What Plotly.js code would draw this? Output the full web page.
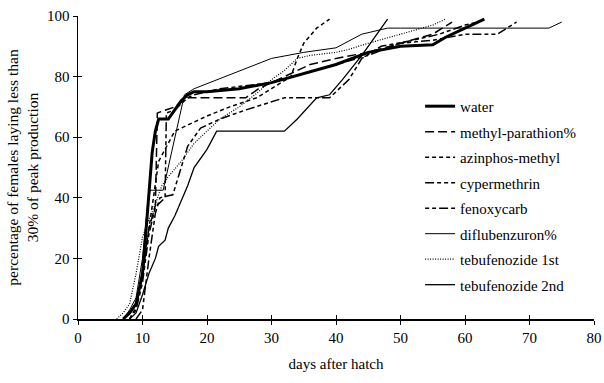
<!DOCTYPE html>
<html>
<head>
<meta charset="utf-8">
<script src="https://cdn.plot.ly/plotly-3.0.1.min.js"></script>
<style>html,body{margin:0;padding:0;background:#fff;}#chart{width:604px;height:383px;}</style>
</head>
<body>
<div id="chart"></div>
<script>
// ---- data ----
const seriesNames = ["water","methyl-parathion%","azinphos-methyl","cypermethrin","fenoxycarb","diflubenzuron%","tebufenozide 1st","tebufenozide 2nd"];

const waterX = [7, 8, 9, 10, 10.5, 11, 11.5, 12, 12.5, 14, 15, 16, 17, 18, 20, 25, 30, 35, 40, 45, 50, 55, 57, 60, 63];
const waterY = [0, 2, 5, 15, 28, 42, 55, 62, 66, 66, 69, 72, 74, 75, 75, 76, 78, 81, 84, 88, 90, 90.5, 93, 96, 99];

const methylX = [7, 8, 9, 10, 11, 12, 12.3, 13.5, 15, 17, 18, 26, 28, 32, 36, 40, 45, 50, 55, 58];
const methylY = [0, 2, 5, 15, 30, 37.5, 68, 69, 70, 73, 73, 73, 76, 80, 84, 86, 88, 91, 94, 98];

const azinX = [8, 9, 10, 11, 12, 12.5, 13, 14, 15, 17, 20, 23.5, 27.7, 30, 33, 34, 35, 37, 39];
const azinY = [0, 4, 15, 30, 45, 52, 54, 58, 62, 64, 67, 70, 73, 76, 80, 86, 91, 96, 99];

const cyperX = [9, 10, 11, 12, 12.7, 14.7, 16, 17, 19, 22, 26, 29, 32, 39, 42, 44, 47, 52, 56, 60, 62];
const cyperY = [0, 3, 20, 35, 40, 41, 50, 57, 63, 66, 69, 71, 73, 73, 79, 86, 90, 92, 94, 97, 98];

const fenoX = [8, 9, 10, 11, 12, 13.5, 13.7, 15, 17, 18, 22, 26, 30, 35, 40, 45, 50, 55, 60, 65, 68];
const fenoY = [0, 3, 12, 28, 37, 40, 68, 69, 73, 74, 76, 77, 78, 81, 84, 87, 91, 92, 94, 94, 98];

const diflX = [7, 8, 9, 10, 10.8, 11.2, 13.2, 16.5, 18, 24, 30, 35, 40, 44, 48, 50, 73, 75];
const diflY = [0, 3, 7, 20, 38, 42.5, 42.5, 74, 76, 81, 86, 88, 89.5, 94, 96, 96, 96, 98];

const teb1X = [6, 7, 8, 9, 10, 11, 12, 13, 14, 16, 18, 20, 22, 25, 28, 30, 32, 34, 36, 40, 42, 45, 50, 55, 57];
const teb1Y = [0, 2, 5, 15, 27, 33, 38, 44, 47, 52, 58, 62, 66, 70, 75, 79, 82, 86, 87, 88, 89, 91, 94, 97, 99];

const teb2X = [8, 9, 10, 11, 12, 12.5, 13.5, 14, 15, 16, 17, 18, 20, 21.5, 32, 34, 37, 39, 41, 44, 46, 48];
const teb2Y = [0, 2, 8, 15, 20, 24, 26, 30, 34, 39, 44, 50, 56, 62, 62, 66, 73, 74, 79, 87, 93, 99];

const xTicks = [0, 10, 20, 30, 40, 50, 60, 70, 80];
const yTicks = [0, 20, 40, 60, 80, 100];

// ---- styles ----
const seriesData = [[waterX, waterY],[methylX, methylY],[azinX, azinY],[cyperX, cyperY],[fenoX, fenoY],[diflX, diflY],[teb1X, teb1Y],[teb2X, teb2Y]];
const styles = [
  {width: 3, dash: "solid"},
  {width: 1.5, dash: "9px,4px"},
  {width: 1.5, dash: "4px,3px"},
  {width: 1.5, dash: "9px,3px,4px,3px,4px,3px"},
  {width: 1.5, dash: "4px,3px,4px,3px,9px,3px"},
  {width: 1, dash: "solid"},
  {width: 1.2, dash: "1px,1.5px"},
  {width: 1.3, dash: "solid"}
];

const traces = seriesNames.map((n, i) => ({
  type: "scatter", mode: "lines", name: n,
  x: seriesData[i][0], y: seriesData[i][1],
  line: {color: "#000", width: styles[i].width, dash: styles[i].dash},
  legendgroup: "g" + i
}));
// invisible trace to carry the inward half of the crossing ticks
traces.push({type: "scatter", mode: "lines", x: [], y: [], xaxis: "x2", yaxis: "y2", showlegend: false, hoverinfo: "skip"});

const fontFam = "Liberation Serif, Times New Roman, serif";
const layout = {
  width: 604, height: 383,
  margin: {l: 78, r: 10, t: 16, b: 64},
  paper_bgcolor: "#fff", plot_bgcolor: "#fff",
  font: {family: fontFam, size: 14, color: "#000"},
  showlegend: true,
  legend: {x: 0.663, y: 0.756, xanchor: "left", yanchor: "top", bgcolor: "rgba(0,0,0,0)",
           font: {family: fontFam, size: 15, color: "#000"}, tracegroupgap: 3, traceorder: "grouped"},
  xaxis: {range: [0, 80], tickvals: xTicks, ticks: "outside", ticklen: 4, tickwidth: 1, tickcolor: "#000",
          showline: true, linecolor: "#000", linewidth: 1.5, showgrid: false, zeroline: false,
          tickfont: {family: fontFam, size: 15}, fixedrange: true,
          title: {text: "days after hatch", font: {family: fontFam, size: 15}, standoff: 14}},
  yaxis: {range: [0, 100], tickvals: yTicks, ticks: "outside", ticklen: 4, tickwidth: 1, tickcolor: "#000",
          showline: true, linecolor: "#000", linewidth: 1.5, showgrid: false, zeroline: false,
          tickfont: {family: fontFam, size: 15}, fixedrange: true,
          title: {text: "percentage of females laying less than<br>30% of peak production", font: {family: fontFam, size: 15.5}, standoff: 4}},
  xaxis2: {overlaying: "x", anchor: "y", side: "bottom", range: [0, 80], tickvals: xTicks, ticks: "inside", ticklen: 4, tickcolor: "#000",
           showticklabels: false, showline: false, showgrid: false, zeroline: false},
  yaxis2: {overlaying: "y", anchor: "x", side: "left", range: [0, 100], tickvals: yTicks, ticks: "inside", ticklen: 4, tickcolor: "#000",
           showticklabels: false, showline: false, showgrid: false, zeroline: false}
};

Plotly.newPlot("chart", traces, layout, {displayModeBar: false, staticPlot: true});
</script>
</body>
</html>
